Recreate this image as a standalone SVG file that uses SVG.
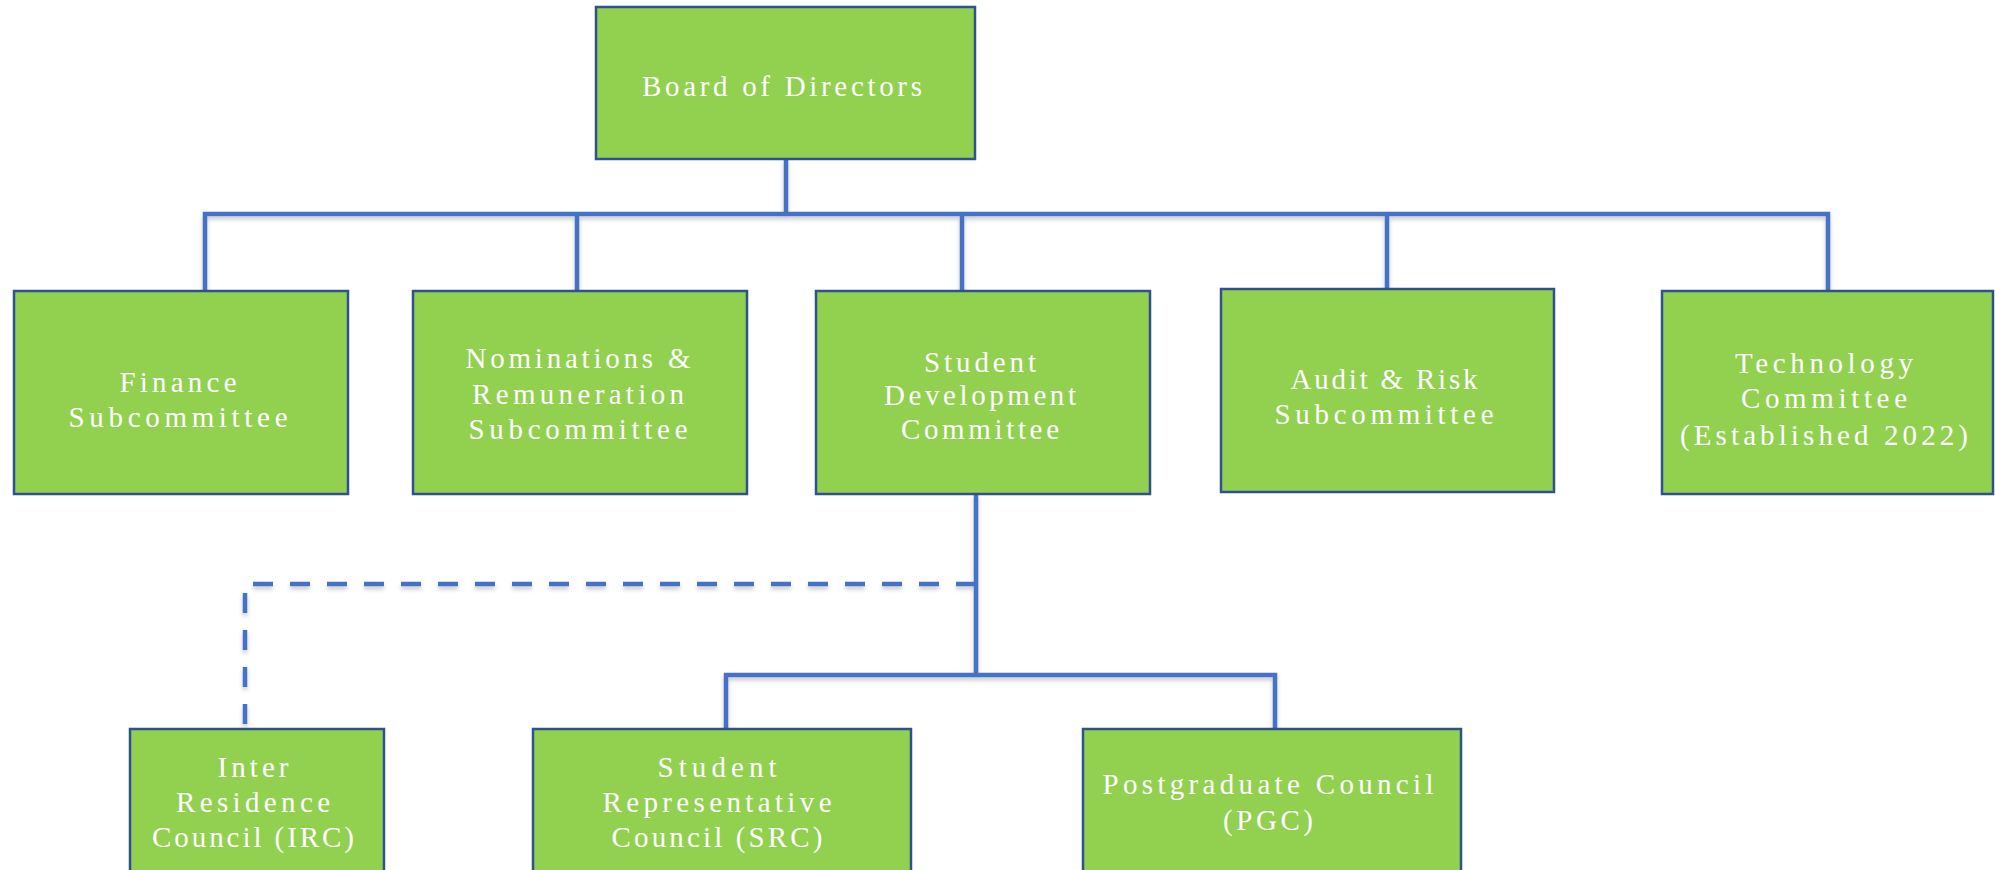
<svg xmlns="http://www.w3.org/2000/svg" width="1995" height="870" viewBox="0 0 1995 870">
<style>
.box{fill:#92D050;stroke:#2F528F;stroke-width:2.5}
.lbl{font-family:"Liberation Serif","Times New Roman",serif;font-size:29px;fill:#FFFFFF;text-anchor:middle}
.ln{fill:none;stroke:#4472C4;stroke-width:4.5}
.dash{stroke-dasharray:20 17}
</style>
<defs>
<filter id="sh" x="-5%" y="-20%" width="110%" height="160%">
<feDropShadow dx="0" dy="3" stdDeviation="2" flood-color="#000" flood-opacity="0.22"/>
</filter>
</defs>
<rect width="1995" height="870" fill="#FFFFFF"/>
<g id="connectors" filter="url(#sh)">
<path class="ln" d="M786,159 V214"/>
<path class="ln" d="M205,291 V214 H1828 V291"/>
<path class="ln" d="M577,214 V291"/>
<path class="ln" d="M962,214 V291"/>
<path class="ln" d="M1387,214 V289"/>
<path class="ln" d="M976,494 V675"/>
<path class="ln" d="M726,729 V675 H1275 V729"/>
<path class="ln dash" d="M976,584 H245 V729"/>
</g>
<g id="board">
<rect class="box" x="596" y="7" width="379" height="152"/>
<text class="lbl" x="782" y="96" textLength="280" lengthAdjust="spacing">Board of Directors</text>
</g>
<g id="finance">
<rect class="box" x="14" y="291" width="334" height="203"/>
<text class="lbl" x="178" y="392" textLength="117" lengthAdjust="spacing">Finance</text>
<text class="lbl" x="178" y="427" textLength="219" lengthAdjust="spacing">Subcommittee</text>
</g>
<g id="nominations">
<rect class="box" x="413" y="291" width="334" height="203"/>
<text class="lbl" x="578" y="368" textLength="225" lengthAdjust="spacing">Nominations &amp;</text>
<text class="lbl" x="578" y="404" textLength="212" lengthAdjust="spacing">Remuneration</text>
<text class="lbl" x="578" y="439" textLength="219" lengthAdjust="spacing">Subcommittee</text>
</g>
<g id="student-development">
<rect class="box" x="816" y="291" width="334" height="203"/>
<text class="lbl" x="980" y="372" textLength="112" lengthAdjust="spacing">Student</text>
<text class="lbl" x="980" y="405" textLength="192" lengthAdjust="spacing">Development</text>
<text class="lbl" x="980" y="439" textLength="158" lengthAdjust="spacing">Committee</text>
</g>
<g id="audit">
<rect class="box" x="1221" y="289" width="333" height="203"/>
<text class="lbl" x="1384" y="389" textLength="187" lengthAdjust="spacing">Audit &amp; Risk</text>
<text class="lbl" x="1384" y="424" textLength="219" lengthAdjust="spacing">Subcommittee</text>
</g>
<g id="technology">
<rect class="box" x="1662" y="291" width="331" height="203"/>
<text class="lbl" x="1824" y="373" textLength="178" lengthAdjust="spacing">Technology</text>
<text class="lbl" x="1824" y="408" textLength="166" lengthAdjust="spacing">Committee</text>
<text class="lbl" x="1824" y="445" textLength="288" lengthAdjust="spacing">(Established 2022)</text>
</g>
<g id="irc">
<rect class="box" x="130" y="729" width="254" height="170"/>
<text class="lbl" x="253" y="777" textLength="71" lengthAdjust="spacing">Inter</text>
<text class="lbl" x="253" y="812" textLength="154" lengthAdjust="spacing">Residence</text>
<text class="lbl" x="253" y="847" textLength="202" lengthAdjust="spacing">Council (IRC)</text>
</g>
<g id="src">
<rect class="box" x="533" y="729" width="378" height="170"/>
<text class="lbl" x="717" y="777" textLength="119" lengthAdjust="spacing">Student</text>
<text class="lbl" x="717" y="812" textLength="229" lengthAdjust="spacing">Representative</text>
<text class="lbl" x="717" y="847" textLength="211" lengthAdjust="spacing">Council (SRC)</text>
</g>
<g id="pgc">
<rect class="box" x="1083" y="729" width="378" height="170"/>
<text class="lbl" x="1268" y="794" textLength="331" lengthAdjust="spacing">Postgraduate Council</text>
<text class="lbl" x="1268" y="830" textLength="90" lengthAdjust="spacing">(PGC)</text>
</g>
</svg>
